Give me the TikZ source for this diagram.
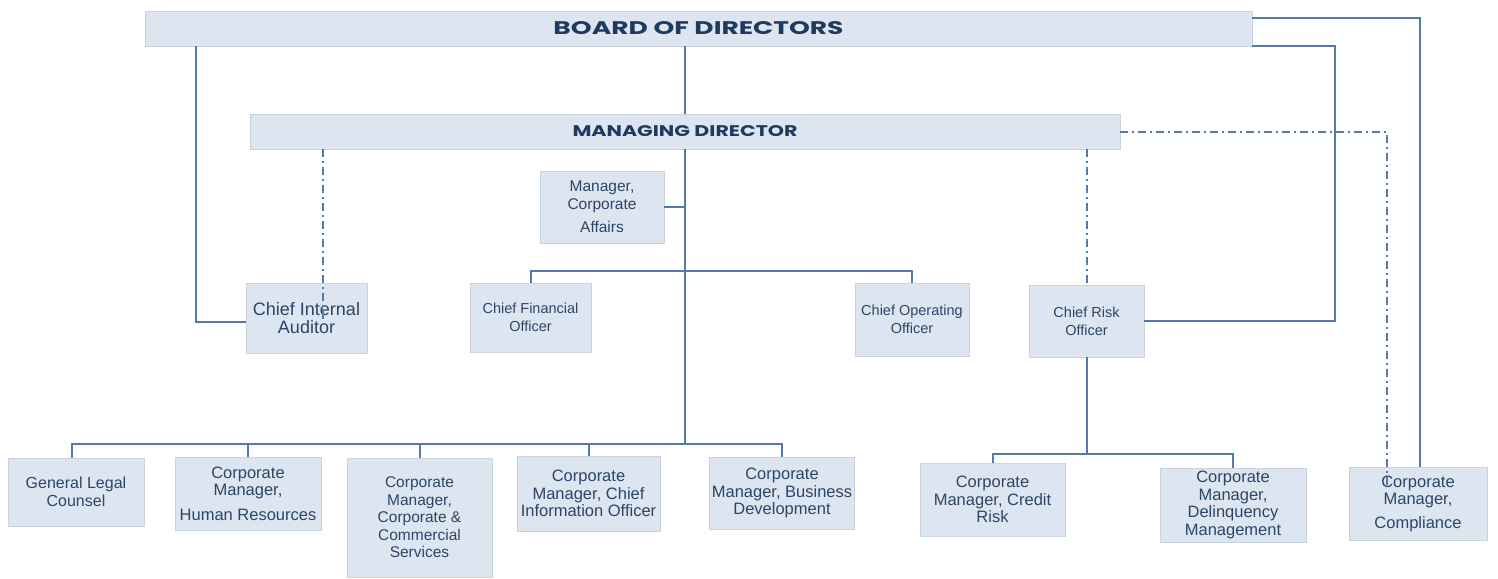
\documentclass[tikz,border=0pt]{standalone}
\usepackage{fontspec}
\setmainfont{Liberation Sans}
\newfontfamily\headfont{Poppins}
\definecolor{boxfill}{HTML}{DDE6F0}
\definecolor{boxline}{HTML}{C9D3DE}
\definecolor{txt}{HTML}{2E4566}
\definecolor{head}{HTML}{1F3A5F}
\definecolor{conn}{HTML}{5679AD}
\tikzset{
  box/.style={fill=boxfill, draw=boxline, line width=0.8pt, align=center, text=txt,
    font=\fontsize{16.5}{17.5}\selectfont, inner sep=2pt},
  smallbox/.style={box, font=\fontsize{14.5}{18}\selectfont},
  headbox/.style={fill=boxfill, draw=boxline, line width=0.8pt, text=head},
  link/.style={draw=conn, line width=2pt},
  dd/.style={draw=conn, line width=2pt, dash pattern=on 8pt off 4pt on 2pt off 4pt},
}
\begin{document}
\begin{tikzpicture}[x=1pt,y=-1pt]
\useasboundingbox[fill=white] (0,0) rectangle (1498,578);
% nodes
\node[headbox, minimum width=1107pt, minimum height=35pt] (board) at (698.5,28.5)
  {\resizebox{290pt}{13pt}{\headfont\bfseries BOARD OF DIRECTORS}};
\node[headbox, minimum width=870pt, minimum height=35pt] (md) at (685,131.5)
  {\resizebox{225pt}{11pt}{\headfont\bfseries MANAGING DIRECTOR}};
\node[box, minimum width=124pt, minimum height=72pt, font=\fontsize{15.5}{18}\selectfont] (mca) at (602,207) {Manager,\\Corporate\\[5pt]Affairs};
\node[box, minimum width=121pt, minimum height=70pt, font=\fontsize{18}{18.5}\selectfont] (cia) at (306.5,318) {Chief Internal\\Auditor};
\node[smallbox, minimum width=121pt, minimum height=69pt] (cfo) at (530.5,317.5) {Chief Financial\\Officer};
\node[smallbox, minimum width=114pt, minimum height=73pt] (coo) at (912,319.5) {Chief Operating\\Officer};
\node[smallbox, minimum width=115pt, minimum height=72pt] (cro) at (1086.5,321) {Chief Risk\\Officer};
\node[box, minimum width=136pt, minimum height=68pt, font=\fontsize{16}{17.5}\selectfont] (glc) at (76,492) {General Legal\\Counsel};
\node[box, minimum width=146pt, minimum height=73pt] (hr) at (248,493.5) {Corporate\\Manager,\\[7pt]Human Resources};
\node[box, minimum width=145pt, minimum height=119pt, font=\fontsize{15.5}{17.5}\selectfont] (ccs) at (419.5,517.5) {Corporate\\Manager,\\Corporate \&\\Commercial\\Services};
\node[box, minimum width=143pt, minimum height=75pt] (cio) at (588.5,493.5) {Corporate\\Manager, Chief\\Information Officer};
\node[box, minimum width=144pt, minimum height=72pt] (bd) at (782,493) {Corporate\\Manager, Business\\Development};
\node[box, minimum width=145pt, minimum height=73pt] (cr) at (992.5,499.5) {Corporate\\Manager, Credit\\Risk};
\node[box, minimum width=146pt, minimum height=74pt] (dm) at (1233,505) {Corporate\\Manager,\\Delinquency\\Management};
\node[box, minimum width=138pt, minimum height=73pt] (cmp) at (1418,503.5) {Corporate\\Manager,\\[6pt]Compliance};
% solid connectors from the board
\draw[link] ([xshift=51pt]board.south west) |- ([yshift=-4pt]cia.west);
\draw[link] (md.north |- board.south) -- (md.north);
\draw[link] ([yshift=-7pt]board.north east) -| ([xshift=2pt]cmp.north);
\coordinate (rb) at (1335,200);
\draw[link] (board.south east) -| (rb) |- (cro.east);
% dash-dot connectors from the managing director
\draw[dd] ([xshift=16pt]cia.north |- md.south) -- ([xshift=16pt,yshift=-44pt]cia.north);
\draw[dd] (cro.north |- md.south) -- (cro.north);
\draw[dd] (md.east) -| ([xshift=-31pt,yshift=-20pt]cmp.north);
% managing director tree
\path (md.south) ++(0,295) coordinate (bus);
\draw[link] (md.south) -- (bus);
\draw[link] (mca.east) -- (mca.east -| md.south);
\draw[link] (cfo.north) |- ([yshift=12pt]coo.north) -- (coo.north);
\draw[link] ([xshift=-4pt]glc.north) |- (bus) -| (bd.north);
\draw[link] (hr.north) -- (hr.north |- bus);
\draw[link] (ccs.north) -- (ccs.north |- bus);
\draw[link] (cio.north) -- (cio.north |- bus);
% chief risk officer tree
\path (cro.south) ++(0,97) coordinate (crb);
\draw[link] (cro.south) -- (crb);
\draw[link] (cr.north) |- (crb) -| (dm.north);
\end{tikzpicture}
\end{document}
